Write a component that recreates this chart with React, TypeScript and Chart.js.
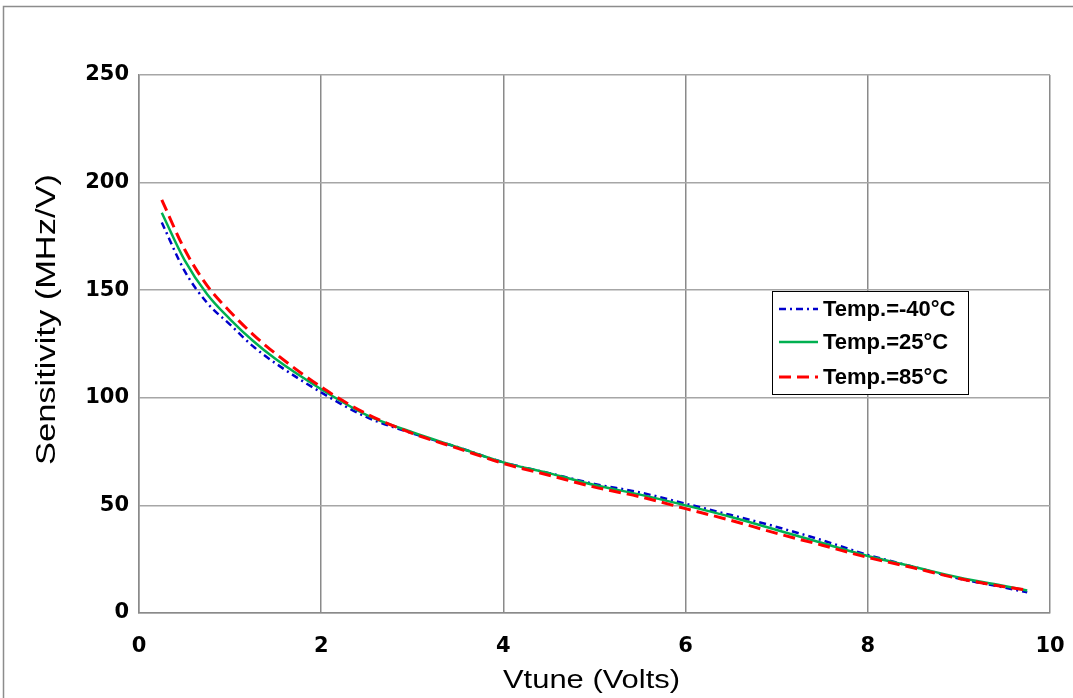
import { useEffect, useRef } from "react";
import { Chart, registerables } from "chart.js";

Chart.register(...registerables);

// ---- data ----
const vtune = [0.25, 0.5, 0.75, 1, 1.25, 1.5, 2, 2.5, 3, 3.5, 4, 4.5, 5, 5.5, 6, 6.5, 7, 7.5, 8, 8.5, 9, 9.5, 9.75];
const sensM40 = [181.5, 159, 144, 134, 124, 116, 102.5, 91, 83.5, 77, 70, 65, 60, 56, 50.8, 45.5, 40, 33.8, 27, 21.5, 16, 11.8, 9.6];
const sens25 = [186, 164, 148, 136.5, 126.5, 118, 104, 92, 84, 77, 70, 65, 59.5, 55, 50, 44.6, 38.6, 32.5, 26.5, 21.5, 16.5, 12.5, 10.5];
const sens85 = [192, 169, 152, 140, 129.5, 120.5, 105, 92.5, 83.5, 76.5, 69.5, 64, 58.5, 54, 48.5, 43, 37, 31.5, 25.8, 21, 16, 12.2, 10.6];
const seriesLabels = ["Temp.=-40°C", "Temp.=25°C", "Temp.=85°C"];
const xTitle = "Vtune (Volts)";
const yTitle = "Sensitivity (MHz/V)";
const xMin = 0, xMax = 10, xStep = 2;
const yMin = 0, yMax = 250, yStep = 50;

const FONT = '"Liberation Sans", Arial, sans-serif';
const TICK_FONT = '"DejaVu Sans", "Liberation Sans", sans-serif';

const toPoints = (ys: number[]) => vtune.map((x, i) => ({ x, y: ys[i] }));

const decorPlugin = {
  id: "decor",
  beforeDraw(chart: any) {
    const ctx = chart.ctx;
    ctx.save();
    ctx.fillStyle = "#ffffff";
    ctx.fillRect(0, 0, chart.width, chart.height);
    ctx.strokeStyle = "#8c8c8c";
    ctx.lineWidth = 1.5;
    ctx.beginPath();
    ctx.moveTo(chart.width + 5, 6.5);
    ctx.lineTo(3.5, 6.5);
    ctx.lineTo(3.5, chart.height + 5);
    ctx.stroke();
    ctx.restore();
  },
  afterDraw(chart: any) {
    const ctx = chart.ctx;
    ctx.save();
    ctx.fillStyle = "#000000";
    // x axis title
    ctx.font = `26px ${FONT}`;
    let w = ctx.measureText(xTitle).width;
    ctx.save();
    ctx.translate(591.5, 688);
    ctx.scale(177 / w, 1);
    ctx.textAlign = "center";
    ctx.textBaseline = "alphabetic";
    ctx.fillText(xTitle, 0, 0);
    ctx.restore();
    // y axis title
    ctx.font = `27px ${FONT}`;
    w = ctx.measureText(yTitle).width;
    ctx.save();
    ctx.translate(55, 319.5);
    ctx.rotate(-Math.PI / 2);
    ctx.scale(291 / w, 1);
    ctx.textAlign = "center";
    ctx.textBaseline = "alphabetic";
    ctx.fillText(yTitle, 0, 0);
    ctx.restore();

    // legend
    const bx = 772.5, by = 291.5, bw = 196, bh = 103;
    ctx.fillStyle = "#ffffff";
    ctx.fillRect(bx, by, bw, bh);
    ctx.strokeStyle = "#000000";
    ctx.lineWidth = 1;
    ctx.strokeRect(bx, by, bw, bh);
    const rows = [309, 342, 377];
    chart.data.datasets.forEach((ds: any, i: number) => {
      const y = rows[i];
      ctx.save();
      ctx.strokeStyle = ds.borderColor;
      ctx.lineWidth = ds.borderWidth;
      ctx.setLineDash(ds.borderDash || []);
      ctx.beginPath();
      ctx.moveTo(779, y);
      ctx.lineTo(818, y);
      ctx.stroke();
      ctx.restore();
      ctx.fillStyle = "#000000";
      ctx.font = `bold 22px ${FONT}`;
      ctx.textAlign = "left";
      ctx.textBaseline = "middle";
      ctx.fillText(ds.label, 823, y + 1);
    });
    ctx.restore();
  },
};

export default function App() {
  const ref = useRef<HTMLCanvasElement>(null);
  useEffect(() => {
    if (!ref.current) return;
    const chart = new Chart(ref.current, {
      type: "line",
      data: {
        datasets: [
          {
            label: seriesLabels[0],
            data: toPoints(sensM40),
            borderColor: "#0000cc",
            borderWidth: 2.5,
            borderDash: [7, 4, 2, 4],
            pointRadius: 0,
            cubicInterpolationMode: "monotone",
            order: 2,
          },
          {
            label: seriesLabels[1],
            data: toPoints(sens25),
            borderColor: "#00b050",
            borderWidth: 2.5,
            pointRadius: 0,
            cubicInterpolationMode: "monotone",
            order: 1,
          },
          {
            label: seriesLabels[2],
            data: toPoints(sens85),
            borderColor: "#ff0000",
            borderWidth: 3,
            borderDash: [12, 6],
            pointRadius: 0,
            cubicInterpolationMode: "monotone",
            order: 0,
          },
        ],
      },
      options: {
        responsive: false,
        animation: false,
        layout: { padding: { left: 0, top: 75, right: 23, bottom: 0 } },
        plugins: {
          legend: { display: false },
          tooltip: { enabled: false },
          title: { display: false },
        },
        scales: {
          x: {
            type: "linear",
            min: xMin,
            max: xMax,
            afterFit: (s: any) => {
              s.height = 85;
              s.paddingLeft = 0;
              s.paddingRight = 0;
            },
            ticks: {
              stepSize: xStep,
              padding: 21,
              color: "#000000",
              font: { family: TICK_FONT, size: 21, weight: "bold" },
              maxRotation: 0,
            },
            grid: { color: "#8a8a8a", lineWidth: 1.5, drawTicks: false },
            border: { color: "#8a8a8a", width: 1.5 },
          },
          y: {
            type: "linear",
            min: yMin,
            max: yMax,
            afterFit: (s: any) => {
              s.width = 139;
              s.paddingTop = 0;
              s.paddingBottom = 0;
            },
            ticks: {
              stepSize: yStep,
              padding: 10,
              color: "#000000",
              font: { family: TICK_FONT, size: 21, weight: "bold" },
            },
            grid: { color: "#a6a6a6", lineWidth: 1.5, drawTicks: false },
            border: { color: "#8a8a8a", width: 1.5 },
          },
        },
      },
      plugins: [decorPlugin],
    } as any);
    return () => chart.destroy();
  }, []);
  return (
    <div style={{ position: "absolute", left: 0, top: 0, width: 1073, height: 698, overflow: "hidden" }}>
      <canvas ref={ref} width={1073} height={698} style={{ display: "block" }} />
    </div>
  );
}
